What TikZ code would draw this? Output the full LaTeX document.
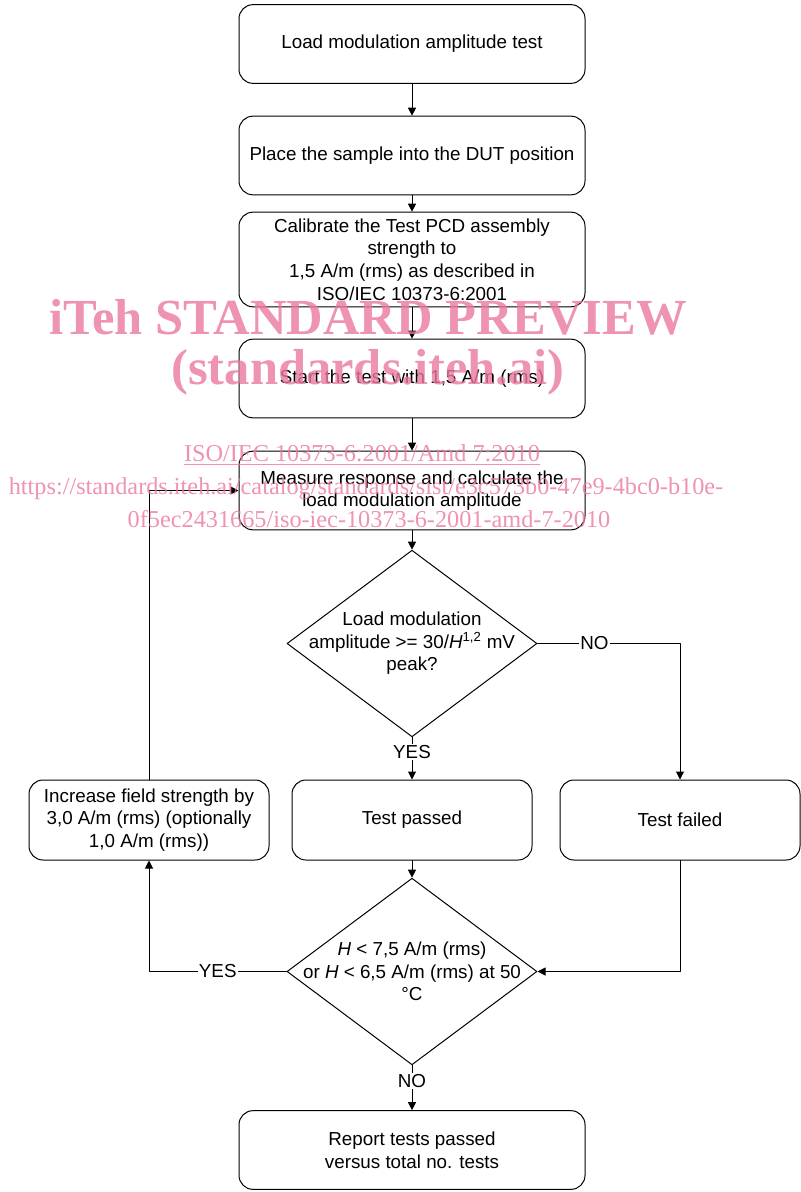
\documentclass[tikz,border=0pt]{standalone}
\usepackage{fontspec}
\setmainfont{Liberation Sans}
\newfontfamily\wmfont{Liberation Serif}
\usetikzlibrary{arrows.meta,shapes.geometric}
\definecolor{wmpink}{RGB}{234,120,158}

\begin{document}
\begin{tikzpicture}[x=0.75pt,y=-0.75pt,>={Triangle[length=6pt,width=6pt]},line cap=round,line join=round,
  box/.style={draw,line width=0.75pt,rounded corners=10.5pt,minimum width=259.5pt,minimum height=59pt,align=center,font=\fontsize{14.1}{16.9}\selectfont},
  sbox/.style={box,minimum width=180pt,minimum height=60pt},
  dia/.style={draw,diamond,line width=0.75pt,inner sep=0pt,minimum width=187.5pt,minimum height=140pt},
  dtxt/.style={align=center,inner sep=0pt,font=\fontsize{14.1}{16.9}\selectfont},
  lbl/.style={fill=white,inner sep=1pt,font=\fontsize{14.1}{16.9}\selectfont},
  wmbig/.style={text=wmpink,opacity=0.8,inner sep=0pt,font=\wmfont\bfseries\fontsize{37.9}{40}\selectfont},
  wmsmall/.style={text=wmpink,opacity=0.8,inner sep=0pt,font=\wmfont\fontsize{18.2}{20}\selectfont}]
\useasboundingbox (0,0) rectangle (800,1192);
\node[box] (b1) at (412,44) {Load modulation amplitude test};
\node[box] (b2) at (412,155.5) {Place the sample into the DUT position};
\node[box,minimum height=71pt] (b3) at (412,259.5) {Calibrate the Test PCD assembly\\strength to\\1,5 A/m (rms) as described in\\ISO/IEC 10373-6:2001};
\node[box] (b4) at (412,378.5) {Start the test with 1,5 A/m (rms)};
\node[box] (b5) at (412,490.5) {Measure response and calculate the\\load modulation amplitude};
\node[dia] (q1) at (412,643.5) {};
\node[dtxt] (q1t) at (q1) {Load modulation\\amplitude >= 30/\textit{H}\textsuperscript{1,2} mV\\peak?};
\node[sbox] (pas) at (412,820) {Test passed};
\node[sbox] (fail) at (680,820) {Test failed};
\node[sbox] (inc) at (149,820) {Increase field strength by\\3,0 A/m (rms) (optionally\\1,0 A/m (rms))};
\node[dia] (q2) at (412,971.5) {};
\node[dtxt] (q2t) at (q2) {\textit{H} < 7,5 A/m (rms)\\or \textit{H} < 6,5 A/m (rms) at 50\\°C};
\node[box] (rep) at (412,1150) {Report tests passed\\versus total no. tests};
\draw[->,line width=0.75pt] (b1) -- (b2);
\draw[->,line width=0.75pt] (b2) -- (b3);
\draw[->,line width=0.75pt] (b3) -- (b4);
\draw[->,line width=0.75pt] (b4) -- (b5);
\draw[->,line width=0.75pt] (b5) -- (q1);
\draw[->,line width=0.75pt] (q1) -- node[lbl,pos=0.35] (yes1) {YES} (pas);
\draw[->,line width=0.75pt] (q1.east) -- node[lbl,pos=0.4] (no1) {NO} (q1.east -| fail) -- (fail.north);
\draw[->,line width=0.75pt] (pas) -- (q2);
\draw[->,line width=0.75pt] (fail.south) |- (q2.east);
\draw[->,line width=0.75pt] (q2.west) -- node[lbl] (yes2) {YES} (q2.west -| inc) -- (inc.south);
\draw[->,line width=0.75pt] (inc.north) |- (b5.west);
\draw[->,line width=0.75pt] (q2) -- node[lbl,pos=0.35] (no2) {NO} (rep);
\node[wmbig] (wm1) at (368,317) {iTeh STANDARD PREVIEW};
\node[wmbig] (wm2) at (368,372) {(standards.iteh.ai)};
\node[wmsmall] (wm3) at (362,455) {\underline{ISO/IEC 10373-6:2001/Amd 7:2010}};
\node[wmsmall] (wm4) at (366,489) {https://standards.iteh.ai/catalog/standards/sist/e3c573b0-47e9-4bc0-b10e-};
\node[wmsmall] (wm5) at (369,519) {0f5ec2431665/iso-iec-10373-6-2001-amd-7-2010};
\end{tikzpicture}
\end{document}
